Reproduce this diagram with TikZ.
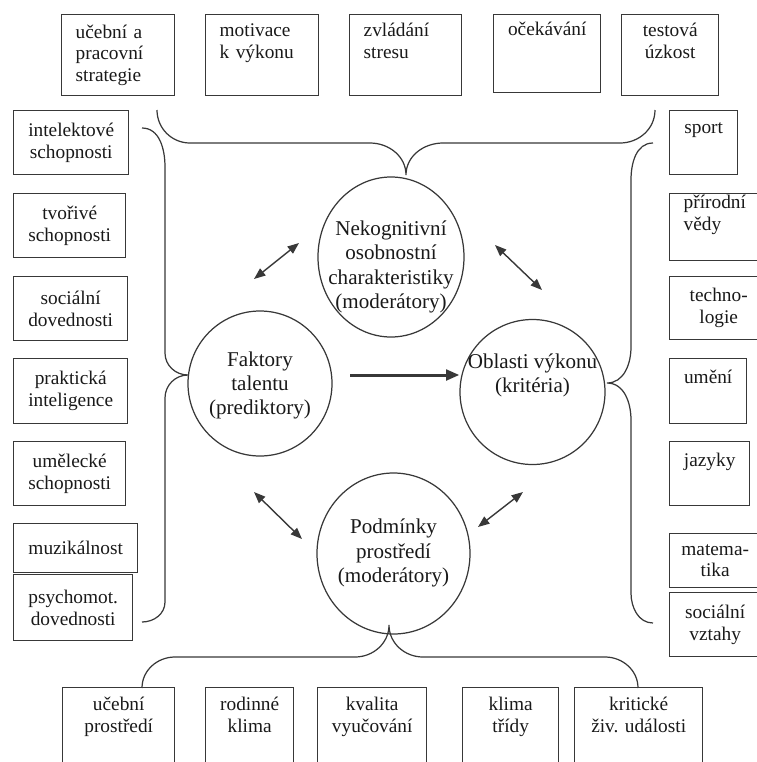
\documentclass[tikz,border=0pt]{standalone}
\usepackage{fontspec}
\setmainfont{Liberation Serif}
\usetikzlibrary{arrows.meta, shapes.geometric}

\definecolor{linecol}{gray}{0.22}
\definecolor{textcol}{gray}{0.1}
\newlength\pxu
\setlength\pxu{0.02cm}
\newcommand\boxfont{\fontsize{11}{12.4}\selectfont}
\newcommand\circfont{\fontsize{12}{13.8}\selectfont}

\begin{document}
\begin{tikzpicture}[
    x=0.02cm, y=0.02cm,
    box/.style 2 args={rectangle, draw=linecol, line width=0.8pt, anchor=north west, inner sep=0pt, minimum width=#1\pxu, minimum height=#2\pxu, align=center, font=\boxfont, text=textcol},
    lefttext/.style={align=left, inner xsep=14\pxu, text width=#1\pxu},
    circ/.style 2 args={ellipse, draw=linecol, line width=0.7pt, inner sep=0pt, minimum width=#1\pxu, minimum height=#2\pxu},
    ctext/.style={align=center, font=\circfont, text=textcol, inner sep=0pt},
    brace/.style={draw=linecol, line width=0.7pt},
    dbl/.style={{Triangle[length=6.5pt,width=5pt]}-{Triangle[length=6.5pt,width=5pt]}, draw=linecol, line width=0.8pt},
    mainarrow/.style={-{Triangle[length=7.5pt,width=6pt]}, draw=linecol, line width=1.7pt}
]
    \useasboundingbox (0,0) rectangle (757,-762);
    \clip (0,0) rectangle (757,-762);

    % Top row: non-cognitive personality traits
    \node[box={113}{81}, lefttext=85] (lern) at (61,-14) {učební a\\pracovní\\strategie};
    \node[box={113}{81}, lefttext=85] (motiv) at (205,-14) {motivace\\k výkonu\\\strut};
    \node[box={112}{81}, lefttext=84] (stres) at (349,-14) {zvládání\\stresu\\\strut};
    \node[box={107}{78}] (ocek) at (493,-14) {očekávání\\\strut\\\strut};
    \node[box={97}{81}] (uzkost) at (621,-14) {testová\\úzkost\\\strut};

    % Left column: talent factors
    \node[box={115}{64}] (intel) at (13,-110) {intelektové\\schopnosti};
    \node[box={112}{64}] (tvor) at (13,-193) {tvořivé\\schopnosti};
    \node[box={114}{64}] (socdov) at (13,-276) {sociální\\dovednosti};
    \node[box={114}{65}] (prakt) at (13,-358) {praktická\\inteligence};
    \node[box={112}{64}] (umel) at (13,-441) {umělecké\\schopnosti};
    \node[box={124}{49}] (muzik) at (13,-523) {muzikálnost};
    \node[box={119}{66}] (psych) at (13,-574) {psychomot.\\dovednosti};

    % Right column: performance areas
    \node[box={68}{64}] (sport) at (669,-110) {sport\\\strut};
    \node[box={98}{67}, lefttext=70] (prir) at (669,-193) {přírodní\\vědy\\\strut};
    \node[box={98}{63}] (tech) at (669,-276) {techno-\\logie};
    \node[box={77}{65}] (umeni) at (669,-358) {umění\\\strut};
    \node[box={80}{64}] (jazyk) at (669,-441) {jazyky\\\strut};
    \node[box={91}{54}] (mat) at (669,-533) {matema-\\tika};
    \node[box={91}{64}] (vztahy) at (669,-592) {sociální\\vztahy};

    % Bottom row: environment
    \node[box={112}{83}] (ucprost) at (62,-687) {učební\\prostředí\\\strut};
    \node[box={88}{83}] (rodin) at (205,-687) {rodinné\\klima\\\strut};
    \node[box={109}{83}] (kval) at (317,-687) {kvalita\\vyučování\\\strut};
    \node[box={96}{83}] (klima) at (462,-687) {klima\\třídy\\\strut};
    \node[box={128}{83}] (krit) at (574,-687) {kritické\\živ. události\\\strut};

    % Circles
    \node[circ={146}{160}] (nek) at (391,-257) {};
    \node[ctext] (nektext) at (391,-267) {Nekognitivní\\osobnostní\\charakteristiky\\(moderátory)};
    \node[circ={144}{145}] (fak) at (260,-383.5) {};
    \node[ctext] (faktext) at (260,-385.5) {Faktory\\talentu\\(prediktory)};
    \node[circ={145}{145}] (obl) at (532.5,-392) {};
    \node[ctext] (obltext) at (532.5,-375.5) {Oblasti výkonu\\(kritéria)};
    \node[circ={153}{161}] (pod) at (393.5,-553.5) {};
    \node[ctext] (podtext) at (393.5,-553) {Podmínky\\prostředí\\(moderátory)};

    % Braces
    \draw[brace] (157,-110) to[out=-90,in=180] (190,-143) -- (370,-143) to[out=0,in=90] (406,-175)
        to[out=90,in=180] (443,-143) -- (620,-143) to[out=0,in=-90] (655,-110);
    \draw[brace] (142,-128) to[out=0,in=90] (165,-167) -- (165,-353) to[out=-90,in=180] (188,-375)
        to[out=180,in=90] (165,-398) -- (165,-602) to[out=-90,in=0] (142,-622);
    \draw[brace] (653,-143) to[out=180,in=90] (631,-180) -- (631,-347) to[out=-90,in=0] (607,-383)
        to[out=0,in=90] (631,-420) -- (631,-593) to[out=-90,in=180] (653,-623);
    \draw[brace] (142,-688) to[out=90,in=180] (175,-657) -- (355,-657) to[out=0,in=-90] (389,-625)
        to[out=-90,in=180] (423,-657) -- (605,-657) to[out=0,in=90] (638,-688);

    % Interactions
    \coordinate (a1s) at (254,-279);
    \coordinate (a1e) at (299,-243);
    \coordinate (a2s) at (495,-245);
    \coordinate (a2e) at (542,-290);
    \coordinate (a3s) at (254,-492);
    \coordinate (a3e) at (302,-539);
    \coordinate (a4s) at (478,-527);
    \coordinate (a4e) at (523,-492);
    \draw[dbl] (a1s) -- (a1e);
    \draw[dbl] (a2s) -- (a2e);
    \draw[dbl] (a3s) -- (a3e);
    \draw[dbl] (a4s) -- (a4e);

    % Talent -> performance
    \coordinate (mainstart) at (350,-375);
    \draw[mainarrow] (mainstart) -- (mainstart -| obl.west);
\end{tikzpicture}
\end{document}
